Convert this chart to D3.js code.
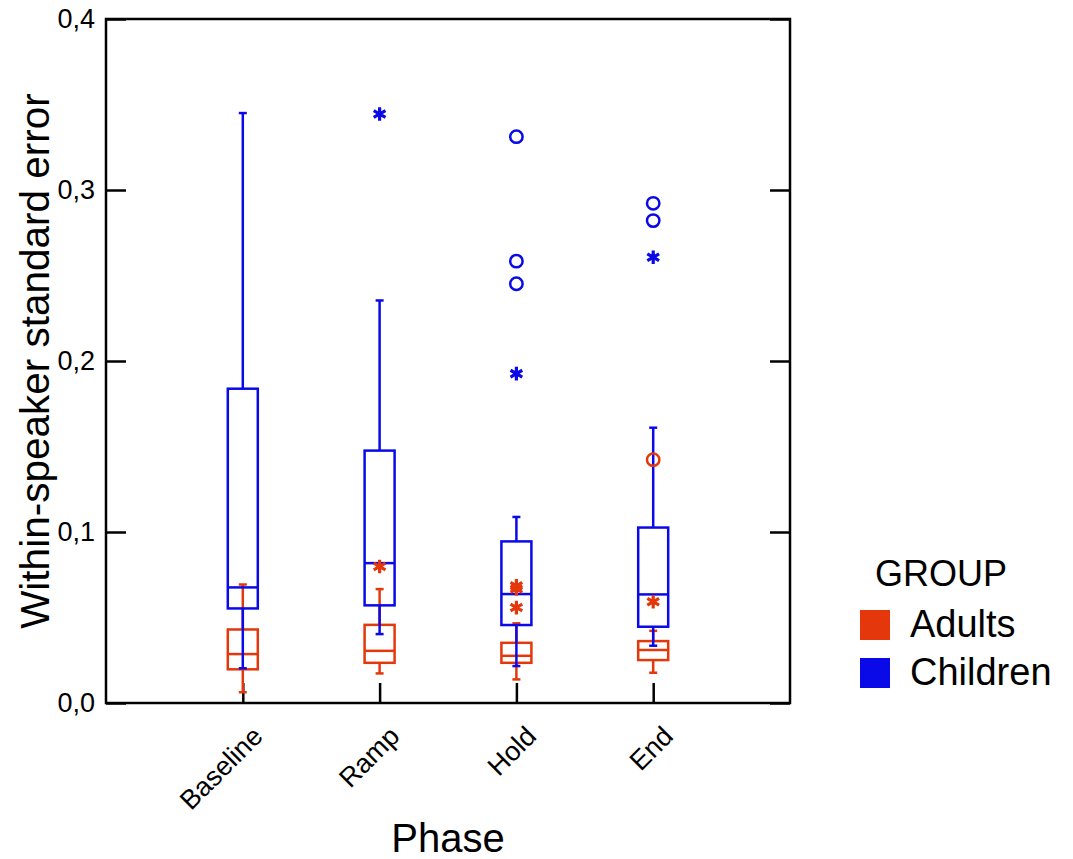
<!DOCTYPE html>
<html>
<head>
<meta charset="utf-8">
<script src="https://cdn.jsdelivr.net/npm/d3@7"></script>
<style>
  body { margin: 0; background: #fff; }
  text { font-family: "Liberation Sans", Arial, sans-serif; fill: #000; }
</style>
</head>
<body>
<div class="container"></div>
<script>
// phases on the x axis
const phases = ["Baseline", "Ramp", "Hold", "End"];
const groups = ["Adults", "Children"];
const yTicks = [0, 0.1, 0.2, 0.3, 0.4];

// box stats per phase: [low whisker, Q1, median, Q3, high whisker]
const adultsBox = [
  [0.0063, 0.0197, 0.0286, 0.0430, 0.0693],
  [0.0173, 0.0235, 0.0305, 0.0457, 0.0666],
  [0.0138, 0.0235, 0.0276, 0.0352, 0.0466],
  [0.0177, 0.0251, 0.0310, 0.0362, 0.0422]
];
const childrenBox = [
  [0.0203, 0.0553, 0.0676, 0.1838, 0.3450],
  [0.0403, 0.0571, 0.0818, 0.1476, 0.2354],
  [0.0216, 0.0456, 0.0637, 0.0945, 0.1088],
  [0.0335, 0.0446, 0.0635, 0.1026, 0.1610]
];

// outliers: [phase index, value, kind]
const adultsOut = [
  [1, 0.0798, "star"],
  [2, 0.0685, "star"],
  [2, 0.0667, "star"],
  [2, 0.0558, "star"],
  [3, 0.1423, "circle"],
  [3, 0.0592, "star"]
];
const childrenOut = [
  [1, 0.3444, "star"],
  [2, 0.3312, "circle"],
  [2, 0.2584, "circle"],
  [2, 0.2452, "circle"],
  [2, 0.1926, "star"],
  [3, 0.2922, "circle"],
  [3, 0.2821, "circle"],
  [3, 0.2607, "star"]
];

const colors = {Adults: "#e4380c", Children: "#0a0ae8"};

const W = 1073, H = 859;
const mLeft = 106, mRight = 790, mTop = 19, mBottom = 703;

const svg = d3.select(".container").append("svg")
  .attr("width", W).attr("height", H);

const x = d3.scaleLinear().domain([0, 5]).range([mLeft, mRight]);
const y = d3.scaleLinear().domain([0, 0.4]).range([mBottom, mTop]);

const boxW = 30, capW = 8, lw = 2.5;

// axes, ticks pointing inward
svg.append("g")
  .attr("transform", `translate(${mLeft},0)`)
  .call(d3.axisLeft(y).tickValues(yTicks).tickSizeInner(-20).tickSizeOuter(0)
    .tickPadding(11).tickFormat(d => d3.format(".1f")(d).replace(".", ",")))
  .call(g => g.select(".domain").remove())
  .call(g => g.selectAll("line").attr("stroke", "#000").attr("stroke-width", lw))
  .call(g => g.selectAll("text").attr("font-size", 27));

svg.append("g")
  .attr("transform", `translate(${mRight},0)`)
  .call(d3.axisRight(y).tickValues(yTicks).tickSizeInner(-20).tickSizeOuter(0).tickFormat(""))
  .call(g => g.select(".domain").remove())
  .call(g => g.selectAll("line").attr("stroke", "#000").attr("stroke-width", lw));

const xAxis = svg.append("g")
  .attr("transform", `translate(0,${mBottom})`)
  .call(d3.axisBottom(x).tickValues([1, 2, 3, 4]).tickSizeInner(-20).tickSizeOuter(0)
    .tickFormat(d => phases[d - 1]))
  .call(g => g.select(".domain").remove())
  .call(g => g.selectAll("line").attr("stroke", "#000").attr("stroke-width", lw));

xAxis.selectAll("text")
  .attr("font-size", 27)
  .attr("text-anchor", "end")
  .attr("y", 0).attr("dy", 0)
  .attr("transform", "translate(21,35) rotate(-45)");

// frame
svg.append("rect")
  .attr("x", mLeft).attr("y", mTop)
  .attr("width", mRight - mLeft).attr("height", mBottom - mTop)
  .attr("fill", "none").attr("stroke", "#000").attr("stroke-width", lw);

// boxes
const drawBoxes = (data, color) => {
  const g = svg.append("g")
    .attr("stroke", color).attr("stroke-width", lw).attr("fill", "none");
  data.forEach((s, i) => {
    const cx = x(i + 1);
    g.append("line").attr("x1", cx).attr("x2", cx).attr("y1", y(s[0])).attr("y2", y(s[1]));
    g.append("line").attr("x1", cx).attr("x2", cx).attr("y1", y(s[3])).attr("y2", y(s[4]));
    g.append("line").attr("x1", cx - capW / 2).attr("x2", cx + capW / 2).attr("y1", y(s[0])).attr("y2", y(s[0]));
    g.append("line").attr("x1", cx - capW / 2).attr("x2", cx + capW / 2).attr("y1", y(s[4])).attr("y2", y(s[4]));
    g.append("rect").attr("x", cx - boxW / 2).attr("width", boxW)
      .attr("y", y(s[3])).attr("height", y(s[1]) - y(s[3]));
    g.append("line").attr("x1", cx - boxW / 2).attr("x2", cx + boxW / 2).attr("y1", y(s[2])).attr("y2", y(s[2]));
  });
};
drawBoxes(adultsBox, colors.Adults);
drawBoxes(childrenBox, colors.Children);

// outliers
const star = d3.symbol().type(d3.symbolAsterisk).size(130);
const drawOutliers = (data, color) => {
  const g = svg.append("g").attr("stroke", color).attr("fill", "none");
  g.selectAll("path").data(data.filter(d => d[2] === "star")).join("path")
    .attr("d", star)
    .attr("stroke-width", 3.2)
    .attr("transform", d => `translate(${x(d[0] + 1)},${y(d[1])})`);
  g.selectAll("circle").data(data.filter(d => d[2] === "circle")).join("circle")
    .attr("cx", d => x(d[0] + 1)).attr("cy", d => y(d[1]))
    .attr("r", 6.2).attr("stroke-width", 2.5);
};
drawOutliers(adultsOut, colors.Adults);
drawOutliers(childrenOut, colors.Children);

// axis titles
svg.append("text")
  .attr("transform", `translate(49,${(mTop + mBottom) / 2}) rotate(-90)`)
  .attr("text-anchor", "middle")
  .attr("font-size", 40.5)
  .text("Within-speaker standard error");

svg.append("text")
  .attr("x", (mLeft + mRight) / 2).attr("y", 852)
  .attr("text-anchor", "middle")
  .attr("font-size", 40)
  .text("Phase");

// legend
const legend = svg.append("g");
legend.append("text").attr("x", 875).attr("y", 586).attr("font-size", 36).text("GROUP");
groups.forEach((gName, i) => {
  legend.append("rect")
    .attr("x", 860).attr("y", 610 + i * 48)
    .attr("width", 30).attr("height", 30)
    .attr("fill", colors[gName]);
  legend.append("text")
    .attr("x", 910).attr("y", 637 + i * 48)
    .attr("font-size", 38)
    .text(gName);
});
</script>
</body>
</html>
